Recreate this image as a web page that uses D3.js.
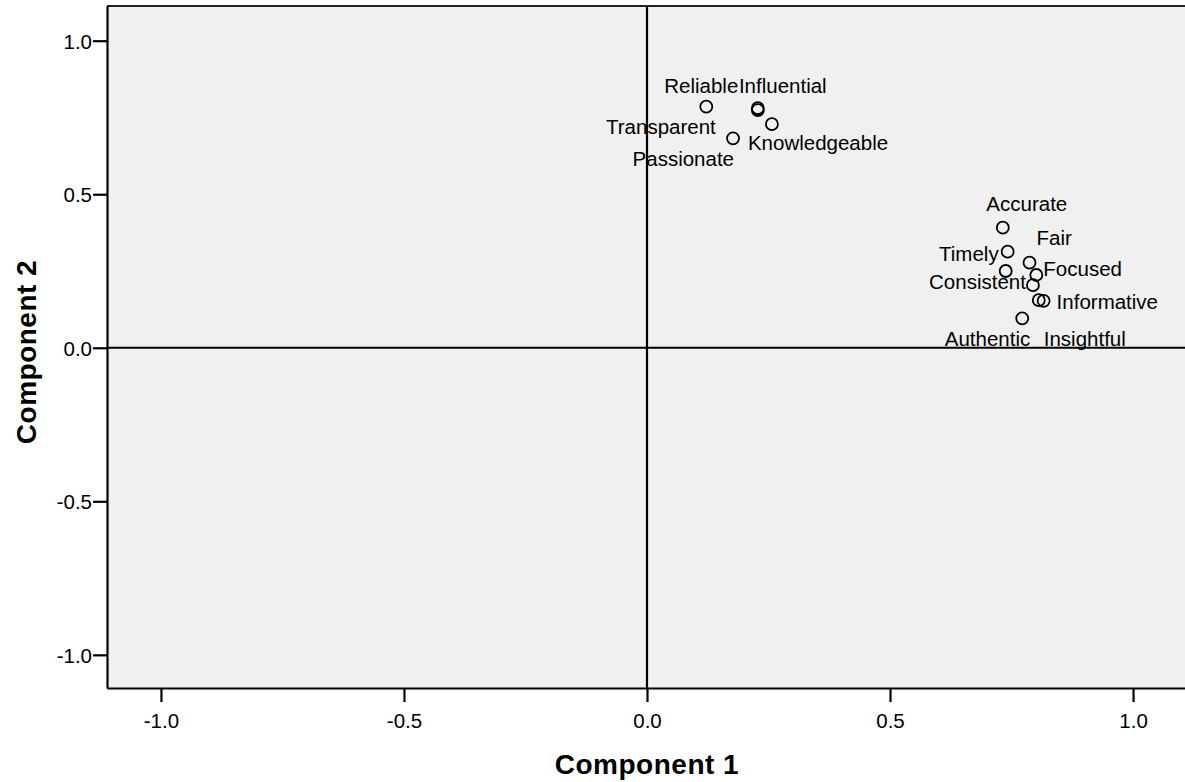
<!DOCTYPE html>
<html>
<head>
<meta charset="utf-8">
<script src="https://cdn.jsdelivr.net/npm/d3@7"></script>
<style>
	body { margin: 0; background: #fff; }
	text { font-family: Arial, "Liberation Sans", sans-serif; fill: #000; }
</style>
</head>
<body>
<svg id="svg" width="1185" height="782"></svg>
<script>
"use strict";

// component loadings (one empty name = point whose label is hidden)
const names = [
	"Reliable", "Influential", "Transparent", "Knowledgeable", "Passionate",
	"Accurate", "Timely", "Fair", "", "Focused",
	"Consistent", "Informative", "Insightful", "Authentic",
];
const comp1 = [
	0.122, 0.228, 0.228, 0.257, 0.177,
	0.732, 0.742, 0.787, 0.738, 0.801,
	0.794, 0.816, 0.806, 0.772,
];
const comp2 = [
	0.785, 0.780, 0.774, 0.728, 0.682,
	0.391, 0.313, 0.277, 0.250, 0.237,
	0.204, 0.153, 0.155, 0.096,
];

const xTicks = [-1.0, -0.5, 0.0, 0.5, 1.0];
const yTicks = [-1.0, -0.5, 0.0, 0.5, 1.0];
const xTitle = "Component 1";
const yTitle = "Component 2";

// label placement around each point (anchor + nudge in px)
const labelAnchor = [
	"middle", "middle", "end", "start", "end",
	"middle", "end", "start", "start", "start",
	"end", "start", "start", "end",
];
const labelDx = [-5, 25, -42, -24, 1, 24, -9, 7, 0, 7, -7, 13, 5, 8];
const labelDy = [-14, -15, 24, 26, 28, -17, 9, -18, 0, 1, 4, 8, 46, 28];

const svg = d3.select("#svg");
const plot = { left: 107, right: 1187, top: 6, bottom: 688 };

const x = d3.scaleLinear().domain([-1.111, 1.111]).range([plot.left, plot.right]);
const y = d3.scaleLinear().domain([-1.108, 1.113]).range([plot.bottom, plot.top]);

// plain hyphen for negatives, like the original
const fmt = (d) => d3.format(".1f")(d).replace("\u2212", "-");

// plot background
svg.append("rect")
	.attr("x", plot.left)
	.attr("y", plot.top)
	.attr("width", plot.right - plot.left)
	.attr("height", plot.bottom - plot.top)
	.attr("fill", "#f0f0f0");

// top border
svg.append("line")
	.attr("x1", plot.left)
	.attr("x2", plot.right)
	.attr("y1", plot.top)
	.attr("y2", plot.top)
	.attr("stroke", "#222")
	.attr("stroke-width", 2);

// axes
const xAxis = svg.append("g")
	.attr("transform", `translate(0,${plot.bottom})`)
	.call(d3.axisBottom(x).tickValues(xTicks).tickFormat(fmt).tickSize(14).tickSizeOuter(0).tickPadding(4));

const yAxis = svg.append("g")
	.attr("transform", `translate(${plot.left},0)`)
	.call(d3.axisLeft(y).tickValues(yTicks).tickFormat(fmt).tickSize(14).tickSizeOuter(0).tickPadding(1));

[xAxis, yAxis].forEach((a) => {
	a.select(".domain").attr("stroke", "#000").attr("stroke-width", 2.2);
	a.selectAll(".tick line").attr("stroke", "#000").attr("stroke-width", 2.2);
	a.selectAll(".tick text")
		.style("font-family", "Arial, 'Liberation Sans', sans-serif")
		.style("font-size", "20.5px")
		.attr("fill", "#000");
});
xAxis.selectAll(".tick text").attr("dy", "1.05em");
yAxis.selectAll(".tick text").attr("dy", "0.36em");

// reference lines at zero
svg.append("line")
	.attr("x1", x(0))
	.attr("x2", x(0))
	.attr("y1", plot.top)
	.attr("y2", plot.bottom)
	.attr("stroke", "#000")
	.attr("stroke-width", 2.2);
svg.append("line")
	.attr("x1", plot.left)
	.attr("x2", plot.right)
	.attr("y1", y(0))
	.attr("y2", y(0))
	.attr("stroke", "#000")
	.attr("stroke-width", 2.2);

const idx = d3.range(names.length);

// point labels
svg.append("g")
	.selectAll("text")
	.data(idx.filter((i) => names[i] !== ""))
	.enter()
	.append("text")
	.attr("x", (i) => x(comp1[i]) + labelDx[i])
	.attr("y", (i) => y(comp2[i]) + labelDy[i])
	.attr("text-anchor", (i) => labelAnchor[i])
	.style("font-size", "20.5px")
	.text((i) => names[i]);

// points
svg.append("g")
	.selectAll("circle")
	.data(idx)
	.enter()
	.append("circle")
	.attr("cx", (i) => x(comp1[i]))
	.attr("cy", (i) => y(comp2[i]))
	.attr("r", 6)
	.attr("fill", "none")
	.attr("stroke", "#000")
	.attr("stroke-width", 1.8);

// axis titles
svg.append("text")
	.attr("x", (plot.left + plot.right) / 2)
	.attr("y", 774)
	.attr("text-anchor", "middle")
	.style("font-size", "28px")
	.style("font-weight", "bold")
	.style("letter-spacing", "0.5px")
	.text(xTitle);

svg.append("text")
	.attr("transform", `translate(36,352) rotate(-90)`)
	.attr("text-anchor", "middle")
	.style("font-size", "28px")
	.style("font-weight", "bold")
	.style("letter-spacing", "0.5px")
	.text(yTitle);
</script>
</body>
</html>
